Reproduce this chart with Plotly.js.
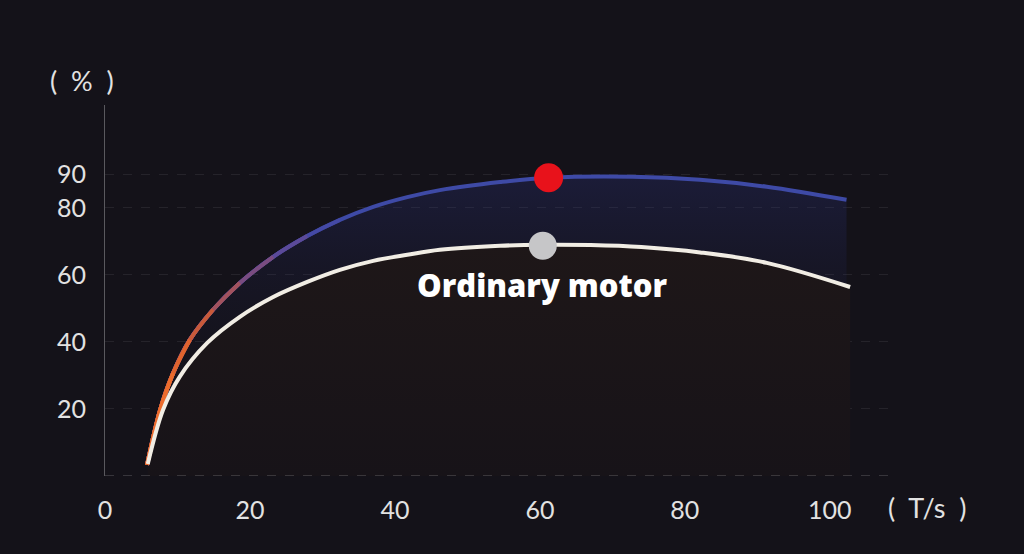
<!DOCTYPE html>
<html>
<head>
<meta charset="utf-8">
<script src="https://cdn.plot.ly/plotly-3.0.1.min.js"></script>
<style>
  html, body { margin: 0; padding: 0; background: #141219; }
  #chart { width: 1024px; height: 554px; }
</style>
</head>
<body>
<div id="chart"></div>
<script>
// ---- data ----
const blueX = [5.8, 7.6, 9.4, 11.7, 14.9, 18.6, 23.2, 27.9, 32.4, 37.0, 41.7, 46.2, 54.5, 61.2, 72.8, 82.1, 91.3, 102.3];
const blueY = [3.3, 19.7, 30.7, 40.6, 49.6, 57.6, 65.4, 71.6, 76.4, 80.3, 83.2, 85.3, 87.7, 89.0, 89.3, 88.4, 86.3, 82.4];
const whiteX = [5.9, 8.0, 10.3, 14.1, 18.6, 23.2, 27.9, 32.4, 37.0, 41.7, 46.2, 54.5, 60.4, 67.0, 74.0, 82.1, 91.3, 102.8];
const whiteY = [3.6, 19.7, 29.6, 39.7, 47.5, 53.4, 57.9, 61.5, 64.2, 66.0, 67.5, 68.7, 69.0, 68.9, 68.3, 66.7, 63.6, 56.4];
const peakBlue = {x: [61.2], y: [89.0]};
const peakWhite = {x: [60.4], y: [68.7]};
const xTicks = [0, 20, 40, 60, 80, 100];
const yTicks = [0, 20, 40, 60, 80, 90];
const yTickText = ['', '20', '40', '60', '80', '90'];
const seriesLabel = 'Ordinary motor';
const yUnit = '(  %  )';
const xUnit = '(  T/s  )';

// ---- traces ----
const traces = [];
traces.push({
  x: blueX, y: blueY, type: 'scatter', mode: 'lines', fill: 'tozeroy',
  line: {width: 0, shape: 'spline', color: 'rgba(0,0,0,0)'},
  fillgradient: {type: 'vertical', start: 0, stop: 90,
    colorscale: [[0, 'rgba(40,45,110,0)'], [0.4, 'rgba(40,45,110,0.03)'], [0.7, 'rgba(40,48,120,0.14)'], [1, 'rgba(45,52,130,0.30)']]},
  hoverinfo: 'skip', showlegend: false
});
traces.push({
  x: whiteX, y: whiteY, type: 'scatter', mode: 'lines', fill: 'tozeroy',
  line: {width: 0, shape: 'spline', color: 'rgba(0,0,0,0)'},
  fillgradient: {type: 'vertical', start: 0, stop: 70,
    colorscale: [[0, '#171318'], [1, '#1e1718']]},
  hoverinfo: 'skip', showlegend: false
});
traces.push({
  x: blueX, y: blueY, type: 'scatter', mode: 'lines',
  line: {width: 4, shape: 'spline', color: '#3e4aa6'},
  hoverinfo: 'skip', showlegend: false
});
// warm start of the blue curve (layered to imitate the gradient)
const warm = [[9, 'rgba(70,72,165,0.8)'], [8, 'rgba(95,74,150,0.85)'], [7, 'rgba(125,76,125,0.9)'], [6, 'rgba(165,82,90,0.92)'], [5, '#c85a3a'], [4, '#e0642e'], [3, '#ec6c2c']];
warm.forEach(([k, c]) => {
  traces.push({
    x: blueX.slice(0, k), y: blueY.slice(0, k), type: 'scatter', mode: 'lines',
    line: {width: 4, shape: 'spline', color: c},
    hoverinfo: 'skip', showlegend: false
  });
});
traces.push({
  x: whiteX, y: whiteY, type: 'scatter', mode: 'lines',
  line: {width: 4, shape: 'spline', color: '#f1ede4'},
  hoverinfo: 'skip', showlegend: false
});
traces.push({
  x: peakBlue.x, y: peakBlue.y, type: 'scatter', mode: 'markers',
  marker: {size: 29, color: '#e8121b'}, hoverinfo: 'skip', showlegend: false
});
traces.push({
  x: peakWhite.x, y: peakWhite.y, type: 'scatter', mode: 'markers',
  marker: {size: 28, color: '#c6c6c8'}, hoverinfo: 'skip', showlegend: false
});

const tickFont = {family: 'Lato, "DejaVu Sans", sans-serif', size: 25, color: '#e2e2e2', weight: 400};

const layout = {
  width: 1024, height: 554,
  paper_bgcolor: '#141219', plot_bgcolor: '#141219',
  margin: {l: 105, r: 134, t: 105, b: 78},
  xaxis: {
    range: [0, 108.3], tickvals: xTicks, showgrid: false, zeroline: false,
    showline: false, ticks: '', tickfont: tickFont, ticklabelstandoff: 17, fixedrange: true
  },
  yaxis: {
    range: [0, 110.7], tickvals: yTicks, ticktext: yTickText,
    showgrid: true, gridcolor: 'rgba(255,255,255,0.075)', griddash: 'dash', gridwidth: 1,
    zeroline: false, showline: true, linecolor: 'rgba(255,255,255,0.3)', linewidth: 1,
    ticks: '', tickfont: tickFont, ticklabelstandoff: 13, fixedrange: true
  },
  shapes: [
    {type: 'line', xref: 'paper', yref: 'y', x0: 0, x1: 1, y0: 0, y1: 0,
     line: {color: 'rgba(255,255,255,0.3)', width: 1, dash: 'dash'}}
  ],
  annotations: [
    {text: seriesLabel, x: 60.4, y: 57.0, xref: 'x', yref: 'y', showarrow: false,
     xanchor: 'center', yanchor: 'middle',
     font: {family: '"Open Sans", Roboto, sans-serif', size: 31, color: '#ffffff', weight: 800}},
    {text: yUnit, xref: 'paper', yref: 'paper', x: -0.029, y: 1.067, showarrow: false,
     xanchor: 'center', yanchor: 'middle',
     font: {family: 'Lato, sans-serif', size: 27, color: '#e2e2e2', weight: 400}},
    {text: xUnit, xref: 'paper', yref: 'paper', x: 1.047, y: -0.084, showarrow: false,
     xanchor: 'center', yanchor: 'middle',
     font: {family: 'Lato, sans-serif', size: 27, color: '#e2e2e2', weight: 400}}
  ]
};

Plotly.newPlot('chart', traces, layout, {displayModeBar: false, staticPlot: true});
</script>
</body>
</html>
